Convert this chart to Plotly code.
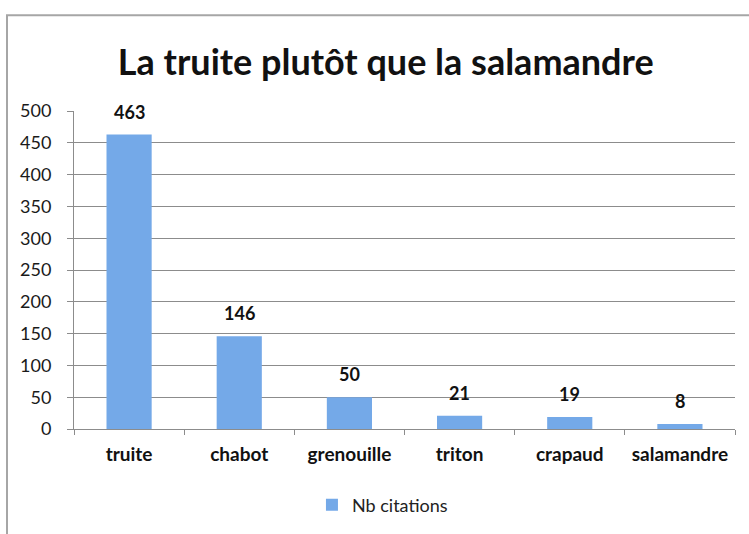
import plotly.graph_objects as go

# Data
categories = ["truite", "chabot", "grenouille", "triton", "crapaud", "salamandre"]
citations = [463, 146, 50, 21, 19, 8]
series_name = "Nb citations"
y_ticks = [0, 50, 100, 150, 200, 250, 300, 350, 400, 450, 500]

font_family = "Lato, 'Open Sans', sans-serif"
bar_color = "#74a9e8"
grid_color = "#8c8c8c"

fig = go.Figure()

fig.add_trace(go.Bar(
    x=categories,
    y=citations,
    name=series_name,
    marker=dict(color=bar_color, line=dict(width=0)),
    width=0.41,
    showlegend=True,
))

# value labels above each bar
for cat, val in zip(categories, citations):
    fig.add_annotation(
        x=cat, y=val, text=f"<b>{val}</b>",
        showarrow=False, yanchor="bottom", yshift=10,
        font=dict(family=font_family, size=18, color="#111"),
    )

fig.update_layout(
    width=749,
    height=534,
    paper_bgcolor="white",
    plot_bgcolor="white",
    margin=dict(l=74, r=14, t=111, b=104),
    title=dict(
        text="<b>La truite plutôt que la salamandre</b>",
        x=0.515, xref="container", xanchor="center",
        y=1 - 62 / 534, yref="container", yanchor="middle",
        font=dict(family=font_family, size=36, color="#111"),
    ),
    font=dict(family=font_family, color="#222"),
    showlegend=True,
    legend=dict(
        orientation="h",
        x=0.36, xanchor="left",
        y=-0.235, yanchor="middle",
        font=dict(size=18, color="#222"),
        itemwidth=30,
    ),
)

fig.update_xaxes(
    type="category",
    showline=True, linecolor=grid_color, linewidth=1,
    ticks="outside", tickson="boundaries", ticklen=5, tickcolor=grid_color,
    tickfont=dict(size=19, color="#111", weight="bold"),
    ticklabelstandoff=8,
    showgrid=False,
)

fig.update_yaxes(
    range=[0, 500],
    tickvals=y_ticks,
    showline=True, linecolor=grid_color, linewidth=1,
    ticks="outside", ticklen=6, tickcolor=grid_color,
    showgrid=True, gridcolor=grid_color, gridwidth=1,
    tickfont=dict(size=18, color="#1a1a1a"),
    ticklabelstandoff=12,
    zeroline=False,
)

# outer chart frame
fig.add_shape(
    type="rect", xref="paper", yref="paper",
    x0=(7 - 74) / 661, x1=(770 - 74) / 661,
    y0=(430 - 560) / 319, y1=(430 - 15) / 319,
    line=dict(color="#a6a6a6", width=2),
    fillcolor="rgba(0,0,0,0)",
    layer="below",
)

fig.write_html(
    "out.html",
    config={"displayModeBar": False},
    post_script="document.body.style.margin='0';",
)
